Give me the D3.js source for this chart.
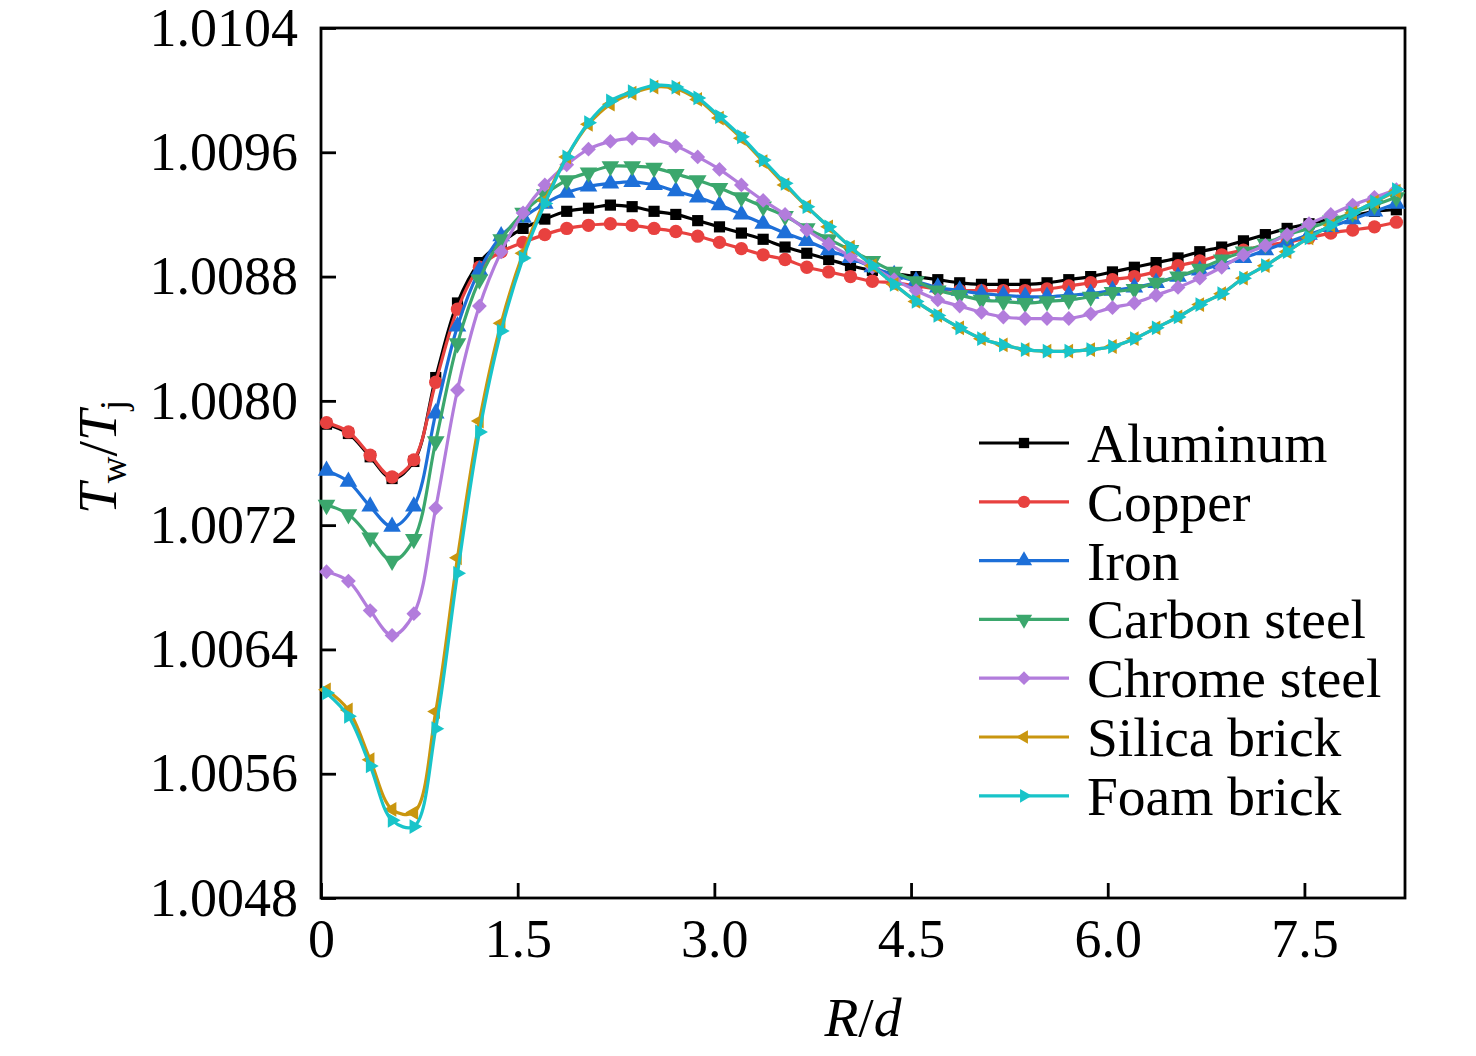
<!DOCTYPE html>
<html lang="en">
<head>
    <meta charset="UTF-8">
    <title>Tw/Tj versus R/d</title>
    <style>
        body { margin: 0; background: #fff; }
        text { font-family: "Liberation Serif", "Times New Roman", serif; }
    </style>
</head>
<body>
<script src="https://d3js.org/d3.v7.min.js"></script>
<script>
    // R/d of the marked points
    const rd = [0.042, 0.209, 0.375, 0.542, 0.708, 0.875, 1.041, 1.208, 1.374, 1.541,
        1.707, 1.874, 2.040, 2.207, 2.373, 2.540, 2.706, 2.873, 3.039, 3.206,
        3.372, 3.539, 3.705, 3.872, 4.038, 4.205, 4.371, 4.538, 4.704, 4.871,
        5.037, 5.204, 5.370, 5.537, 5.703, 5.870, 6.036, 6.203, 6.369, 6.536,
        6.702, 6.869, 7.035, 7.202, 7.368, 7.535, 7.701, 7.868, 8.034, 8.201];

    const aluminum = [1.00785, 1.00779, 1.00764, 1.00750, 1.00761, 1.00815, 1.00863, 1.00889, 1.00902, 1.00911,
        1.00917, 1.00922, 1.00924, 1.00926, 1.00925, 1.00922, 1.00920, 1.00916, 1.00912, 1.00908,
        1.00904, 1.00899, 1.00895, 1.00891, 1.00887, 1.00884, 1.00882, 1.00880, 1.00878, 1.00876,
        1.00875, 1.00875, 1.00875, 1.00876, 1.00878, 1.00880, 1.00883, 1.00886, 1.00889, 1.00892,
        1.00896, 1.00899, 1.00903, 1.00907, 1.00911, 1.00914, 1.00917, 1.00919, 1.00922, 1.00923];
    const copper = [1.00786, 1.00780, 1.00765, 1.00751, 1.00762, 1.00812, 1.00859, 1.00886, 1.00896, 1.00902,
        1.00907, 1.00911, 1.00913, 1.00914, 1.00913, 1.00911, 1.00909, 1.00906, 1.00902, 1.00898,
        1.00894, 1.00891, 1.00886, 1.00883, 1.00880, 1.00877, 1.00876, 1.00874, 1.00872, 1.00871,
        1.00871, 1.00871, 1.00871, 1.00872, 1.00874, 1.00876, 1.00878, 1.00880, 1.00883, 1.00887,
        1.00890, 1.00894, 1.00897, 1.00900, 1.00902, 1.00905, 1.00908, 1.00910, 1.00912, 1.00915];
    const iron = [1.00755, 1.00748, 1.00732, 1.00719, 1.00732, 1.00792, 1.00848, 1.00884, 1.00906, 1.00918,
        1.00927, 1.00934, 1.00938, 1.00940, 1.00941, 1.00939, 1.00935, 1.00931, 1.00926, 1.00920,
        1.00914, 1.00908, 1.00903, 1.00897, 1.00892, 1.00886, 1.00881, 1.00877, 1.00873, 1.00871,
        1.00869, 1.00868, 1.00867, 1.00867, 1.00868, 1.00869, 1.00871, 1.00873, 1.00876, 1.00880,
        1.00884, 1.00888, 1.00892, 1.00897, 1.00902, 1.00907, 1.00912, 1.00917, 1.00922, 1.00927];
    const carbonSteel = [1.00733, 1.00727, 1.00712, 1.00697, 1.00711, 1.00774, 1.00837, 1.00878, 1.00904, 1.00921,
        1.00933, 1.00942, 1.00947, 1.00951, 1.00951, 1.00950, 1.00946, 1.00942, 1.00937, 1.00931,
        1.00925, 1.00919, 1.00911, 1.00904, 1.00897, 1.00890, 1.00883, 1.00877, 1.00871, 1.00868,
        1.00865, 1.00864, 1.00863, 1.00864, 1.00865, 1.00867, 1.00870, 1.00872, 1.00876, 1.00880,
        1.00885, 1.00891, 1.00896, 1.00901, 1.00907, 1.00911, 1.00916, 1.00921, 1.00926, 1.00931];
    const chromeSteel = [1.00690, 1.00684, 1.00665, 1.00649, 1.00663, 1.00731, 1.00807, 1.00861, 1.00896, 1.00921,
        1.00939, 1.00952, 1.00962, 1.00967, 1.00969, 1.00968, 1.00964, 1.00957, 1.00949, 1.00939,
        1.00929, 1.00920, 1.00910, 1.00901, 1.00893, 1.00886, 1.00878, 1.00871, 1.00865, 1.00861,
        1.00857, 1.00854, 1.00853, 1.00853, 1.00853, 1.00856, 1.00860, 1.00863, 1.00868, 1.00873,
        1.00879, 1.00886, 1.00894, 1.00900, 1.00907, 1.00914, 1.00920, 1.00926, 1.00931, 1.00936];
    const silicaBrick = [1.00614, 1.00601, 1.00569, 1.00537, 1.00535, 1.00600, 1.00699, 1.00787, 1.00850, 1.00895,
        1.00929, 1.00957, 1.00978, 1.00991, 1.00998, 1.01002, 1.01001, 1.00994, 1.00982, 1.00969,
        1.00954, 1.00939, 1.00925, 1.00912, 1.00899, 1.00887, 1.00875, 1.00864, 1.00855, 1.00847,
        1.00840, 1.00836, 1.00833, 1.00832, 1.00832, 1.00833, 1.00835, 1.00840, 1.00847, 1.00854,
        1.00862, 1.00869, 1.00879, 1.00887, 1.00896, 1.00905, 1.00913, 1.00921, 1.00928, 1.00935];
    const foamBrick = [1.00612, 1.00597, 1.00565, 1.00530, 1.00526, 1.00589, 1.00689, 1.00780, 1.00845, 1.00892,
        1.00927, 1.00957, 1.00979, 1.00993, 1.00999, 1.01003, 1.01002, 1.00995, 1.00983, 1.00970,
        1.00955, 1.00940, 1.00925, 1.00912, 1.00899, 1.00887, 1.00875, 1.00864, 1.00855, 1.00847,
        1.00840, 1.00836, 1.00833, 1.00832, 1.00832, 1.00833, 1.00835, 1.00840, 1.00847, 1.00854,
        1.00862, 1.00869, 1.00879, 1.00887, 1.00896, 1.00905, 1.00913, 1.00921, 1.00928, 1.00936];

    const seriesNames = ["Aluminum", "Copper", "Iron", "Carbon steel", "Chrome steel", "Silica brick", "Foam brick"];
    const seriesValues = [aluminum, copper, iron, carbonSteel, chromeSteel, silicaBrick, foamBrick];

    const xTicks = [0, 1.5, 3.0, 4.5, 6.0, 7.5];
    const xTickLabels = ["0", "1.5", "3.0", "4.5", "6.0", "7.5"];
    const yTicks = [1.0048, 1.0056, 1.0064, 1.0072, 1.0080, 1.0088, 1.0096, 1.0104];
    const yTickLabels = ["1.0048", "1.0056", "1.0064", "1.0072", "1.0080", "1.0088", "1.0096", "1.0104"];

    function drawChart() {
        const width = 1476;
        const height = 1056;
        const left = 321, right = 1405, top = 28, bottom = 898;
        const tickFont = 54;
        const legendFont = 55.5;

        const colors = ["#000000", "#e8413f", "#1d6fd8", "#3ba76d", "#b27cdc", "#c9960f", "#18c4c9"];
        // marker shape and rotation per series
        const shapes = [
            {type: d3.symbolSquare, size: 125, rot: 0},
            {type: d3.symbolCircle, size: 140, rot: 0},
            {type: d3.symbolTriangle, size: 135, rot: 0},
            {type: d3.symbolTriangle, size: 135, rot: 180},
            {type: d3.symbolSquare, size: 110, rot: 45},
            {type: d3.symbolTriangle, size: 95, rot: -90},
            {type: d3.symbolTriangle, size: 95, rot: 90}
        ];

        const svg = d3.select("body")
            .append("svg")
            .attr("width", width)
            .attr("height", height);

        const x = d3.scaleLinear()
            .domain([0, 8.267])
            .range([left, right]);

        const y = d3.scaleLinear()
            .domain([1.0048, 1.0104])
            .range([bottom, top]);

        // axes, ticks pointing inward
        const xAxis = svg.append("g")
            .attr("transform", "translate(0," + bottom + ")")
            .call(d3.axisBottom(x)
                .tickValues(xTicks)
                .tickFormat((d, i) => xTickLabels[i])
                .tickSizeInner(-15)
                .tickSizeOuter(0)
                .tickPadding(21));

        const yAxis = svg.append("g")
            .attr("transform", "translate(" + left + ",0)")
            .call(d3.axisLeft(y)
                .tickValues(yTicks)
                .tickFormat((d, i) => yTickLabels[i])
                .tickSizeInner(-15)
                .tickSizeOuter(0)
                .tickPadding(23));

        [xAxis, yAxis].forEach(function (g) {
            g.select(".domain").remove();
            g.selectAll(".tick line").attr("stroke", "#000").attr("stroke-width", 2.8);
            g.selectAll(".tick text")
                .attr("fill", "#000")
                .style("font-family", "'Liberation Serif', 'Times New Roman', serif")
                .style("font-size", tickFont + "px");
        });

        svg.append("rect")
            .attr("x", left)
            .attr("y", top)
            .attr("width", right - left)
            .attr("height", bottom - top)
            .attr("fill", "none")
            .attr("stroke", "#000")
            .attr("stroke-width", 2.8);

        const line = d3.line()
            .x(function (d) {
                return x(d.x);
            })
            .y(function (d) {
                return y(d.y);
            })
            .curve(d3.curveCatmullRom.alpha(0.5));

        seriesValues.forEach(function (vals, k) {
            const pts = vals.map(function (v, i) {
                return {x: rd[i], y: v};
            });
            const g = svg.append("g");
            g.append("path")
                .datum(pts)
                .attr("fill", "none")
                .attr("stroke", colors[k])
                .attr("stroke-width", 3.2)
                .attr("d", line);
            g.selectAll("path.mark")
                .data(pts)
                .enter()
                .append("path")
                .attr("class", "mark")
                .attr("d", d3.symbol().type(shapes[k].type).size(shapes[k].size))
                .attr("transform", function (d) {
                    return "translate(" + x(d.x) + "," + y(d.y) + ") rotate(" + shapes[k].rot + ")";
                })
                .attr("fill", colors[k]);
        });

        // legend
        const legend = svg.append("g");
        seriesNames.forEach(function (name, k) {
            const ly = 443 + k * 58.8;
            legend.append("line")
                .attr("x1", 979).attr("x2", 1069)
                .attr("y1", ly).attr("y2", ly)
                .attr("stroke", colors[k])
                .attr("stroke-width", 3.2);
            legend.append("path")
                .attr("d", d3.symbol().type(shapes[k].type).size(shapes[k].size * 0.85))
                .attr("transform", "translate(1024," + ly + ") rotate(" + shapes[k].rot + ")")
                .attr("fill", colors[k]);
            legend.append("text")
                .attr("x", 1087)
                .attr("y", ly + 19)
                .style("font-size", legendFont + "px")
                .text(name);
        });

        // axis titles
        const xt = svg.append("text")
            .attr("x", 863)
            .attr("y", 1036)
            .attr("text-anchor", "middle")
            .style("font-size", legendFont + "px");
        xt.append("tspan").style("font-style", "italic").text("R");
        xt.append("tspan").text("/");
        xt.append("tspan").style("font-style", "italic").text("d");

        const yt = svg.append("text")
            .attr("transform", "translate(116,457) rotate(-90)")
            .attr("text-anchor", "middle")
            .style("font-size", legendFont + "px");
        yt.append("tspan").style("font-style", "italic").text("T");
        yt.append("tspan").attr("dy", 10).style("font-size", "37px").text("w");
        yt.append("tspan").attr("dy", -10).text("/");
        yt.append("tspan").style("font-style", "italic").text("T");
        yt.append("tspan").attr("dy", 10).style("font-size", "37px").text("j");
    }

    drawChart();
</script>
</body>
</html>
